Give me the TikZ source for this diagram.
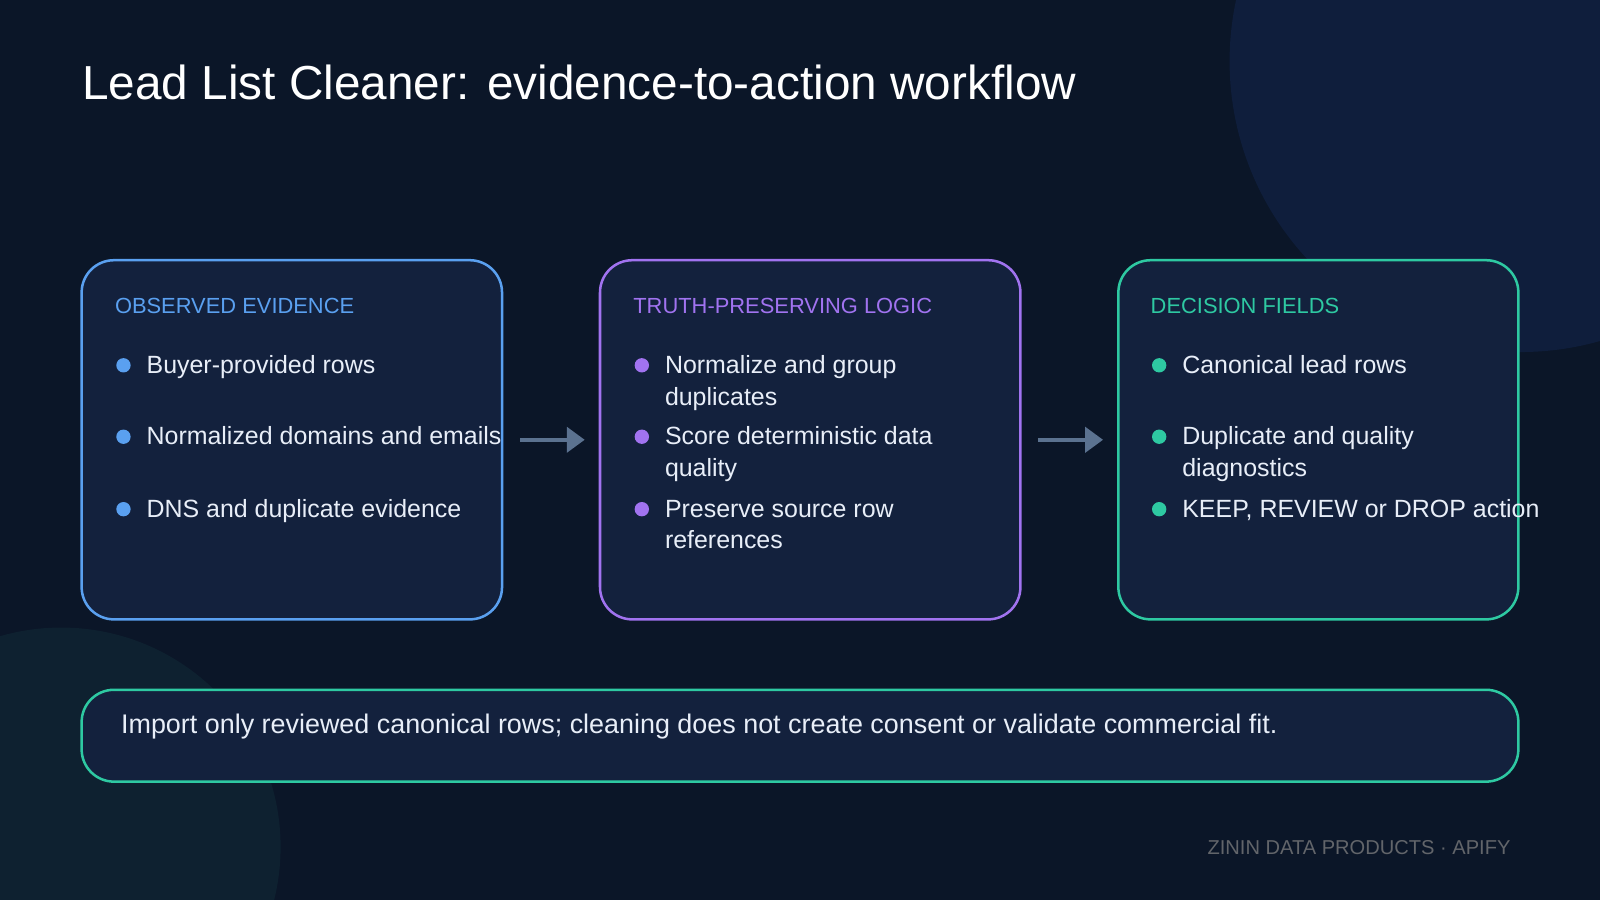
\documentclass[tikz,border=0pt]{standalone}
\usepackage{fontspec}
\setmainfont{Liberation Sans}
\usetikzlibrary{arrows.meta}
\definecolor{bgdark}{HTML}{0B1628}
\definecolor{boxfill}{HTML}{13213D}
\definecolor{evblue}{HTML}{5AA0F0}
\definecolor{lgpurple}{HTML}{A173F0}
\definecolor{dcteal}{HTML}{2EC9A2}
\definecolor{txtlight}{HTML}{E8EEF8}
\definecolor{arrowgray}{HTML}{5B7290}
\definecolor{glowblue}{HTML}{0F1E3C}
\definecolor{glowteal}{HTML}{0E2130}
\tikzset{
  panel/.style={draw=#1, line width=0.7pt, fill=boxfill, rounded corners=9pt},
  head/.style={anchor=base west, text=#1, font=\fontsize{6.1}{7}\selectfont, inner sep=0pt},
  item/.style={anchor=base west, text=txtlight, font=\fontsize{6.95}{8}\selectfont, inner sep=0pt},
  dot/.style={circle, fill=#1, inner sep=0pt, minimum size=4pt},
  flow/.style={draw=arrowgray, line width=1.1pt, -{Triangle[length=5pt,width=7pt]}}
}
\begin{document}
\begin{tikzpicture}[x=0.01cm, y=-0.01cm]
    \useasboundingbox (0,0) rectangle (1568,882);
    % Background
    \fill[bgdark] (0,0) rectangle (1568,882);
    \begin{scope}
      \clip (0,0) rectangle (1568,882);
      \fill[glowblue] (1490,60) circle (285);
      \fill[glowteal] (60,830) circle (215);
    \end{scope}
    % Title
    \node [anchor=base west, text=white, font=\fontsize{13.3}{15}\selectfont, inner sep=0pt] (title) at (80,98) {Lead List Cleaner: evidence-to-action workflow};
    % Panels
    \draw [panel=evblue] (80,255) rectangle (492,607);
    \draw [panel=lgpurple] (588,255) rectangle (1000,607);
    \draw [panel=dcteal] (1096,255) rectangle (1488,607);
    \coordinate (p1e) at (510,431);
    \coordinate (p2w) at (573,431);
    \coordinate (p2e) at (1017,431);
    \coordinate (p3w) at (1081,431);
    % Panel 1
    \node [head=evblue] (h1) at (112,307) {OBSERVED EVIDENCE};
    \node [dot=evblue] (d11) at (121,358) {};
    \node [item] (t11) at (143,366) {Buyer-provided rows};
    \node [dot=evblue] (d12) at (121,428) {};
    \node [item] (t12) at (143,436) {Normalized domains and emails};
    \node [dot=evblue] (d13) at (121,499) {};
    \node [item] (t13) at (143,507) {DNS and duplicate evidence};
    % Panel 2
    \node [head=lgpurple] (h2) at (620,307) {TRUTH-PRESERVING LOGIC};
    \node [dot=lgpurple] (d21) at (629,358) {};
    \node [item] (t21) at (651,366) {Normalize and group};
    \node [item] (t21b) at (651,397) {duplicates};
    \node [dot=lgpurple] (d22) at (629,428) {};
    \node [item] (t22) at (651,436) {Score deterministic data};
    \node [item] (t22b) at (651,467) {quality};
    \node [dot=lgpurple] (d23) at (629,499) {};
    \node [item] (t23) at (651,507) {Preserve source row};
    \node [item] (t23b) at (651,538) {references};
    % Panel 3
    \node [head=dcteal] (h3) at (1127,307) {DECISION FIELDS};
    \node [dot=dcteal] (d31) at (1136,358) {};
    \node [item] (t31) at (1158,366) {Canonical lead rows};
    \node [dot=dcteal] (d32) at (1136,428) {};
    \node [item] (t32) at (1158,436) {Duplicate and quality};
    \node [item] (t32b) at (1158,467) {diagnostics};
    \node [dot=dcteal] (d33) at (1136,499) {};
    \node [item] (t33) at (1158,507) {KEEP, REVIEW or DROP action};
    % Arrows
    \path [flow] (p1e) -- (p2w);
    \path [flow] (p2e) -- (p3w);
    % Note
    \draw [panel=dcteal] (80,676) rectangle (1488,766);
    \node [item, font=\fontsize{7.5}{9}\selectfont] (note) at (118,719) {Import only reviewed canonical rows; cleaning does not create consent or validate commercial fit.};
    % Footer
    \node [anchor=base east, text=gray!75!bgdark, font=\fontsize{5.6}{6}\selectfont, inner sep=0pt] (foot) at (1481,837) {ZININ DATA PRODUCTS · APIFY};
\end{tikzpicture}
\end{document}
